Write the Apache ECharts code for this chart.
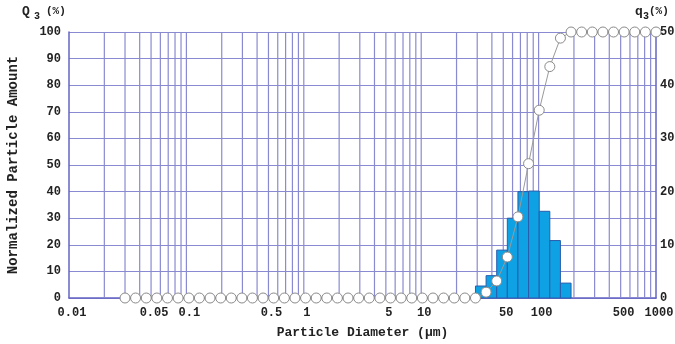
<!DOCTYPE html>
<html>
<head>
<meta charset="utf-8">
<script src="https://cdn.jsdelivr.net/npm/echarts@6/dist/echarts.min.js"></script>
<style>
html,body{margin:0;padding:0;background:#fff;}
#chart{width:675px;height:344px;}
</style>
</head>
<body>
<div id="chart"></div>
<script>
// Particle diameters (µm) of the measurement channels
const diameters = [0.0300, 0.0369, 0.0455, 0.0560, 0.0690, 0.0850, 0.105, 0.129, 0.159, 0.196,
  0.241, 0.297, 0.365, 0.450, 0.554, 0.683, 0.841, 1.035, 1.275, 1.570,
  1.933, 2.381, 2.932, 3.611, 4.447, 5.477, 6.745, 8.307, 10.23, 12.60,
  15.52, 19.11, 23.54, 28.99, 35.70, 43.97, 54.15, 66.69, 82.13, 101.2,
  124.6, 153.4, 189.0, 232.7, 286.6, 353.0, 434.7, 535.4, 659.4, 812.1, 1000];
// Cumulative Q3 (%) at each diameter (left axis)
const cumulativeQ3 = [0, 0, 0, 0, 0, 0, 0, 0, 0, 0,
  0, 0, 0, 0, 0, 0, 0, 0, 0, 0,
  0, 0, 0, 0, 0, 0, 0, 0, 0, 0,
  0, 0, 0, 0, 2.2, 6.4, 15.4, 30.5, 50.5, 70.6,
  87.0, 97.7, 100, 100, 100, 100, 100, 100, 100, 100, 100];
// Frequency q3 (%) of each bin between consecutive diameters (right axis)
const frequencyQ3 = [0, 0, 0, 0, 0, 0, 0, 0, 0, 0,
  0, 0, 0, 0, 0, 0, 0, 0, 0, 0,
  0, 0, 0, 0, 0, 0, 0, 0, 0, 0,
  0, 0, 0, 2.25, 4.2, 9.0, 15.0, 20.0, 20.1, 16.3,
  10.8, 2.8, 0, 0, 0, 0, 0, 0, 0, 0];
// X axis tick labels
const xTickValues = [0.01, 0.05, 0.1, 0.5, 1, 5, 10, 50, 100, 500, 1000];
// Vertical grid positions
const gridDecades = [0.01, 0.1, 1, 10, 100];
const gridMultipliers = [1, 2, 3, 4, 5, 6, 7, 8, 9];
const yLeftMax = 100, yRightMax = 50;

const gridValues = [];
gridDecades.forEach(d => gridMultipliers.forEach(m => {
  const v = +(d * m).toPrecision(3);
  if (v > 0.01) gridValues.push(v);
}));

const lineData = diameters.map((d, i) => [d, cumulativeQ3[i]]);
const barData = [];
frequencyQ3.forEach((v, i) => { if (v > 0) barData.push([diameters[i], diameters[i + 1], v]); });

const FONT = '"Liberation Mono", "DejaVu Sans Mono", monospace';
const GRIDC = '#8a8ad2';
const AXISC = '#6464c4';
const TXT = '#222222';

const chart = echarts.init(document.getElementById('chart'), null, {renderer: 'canvas'});
chart.setOption({
  animation: false,
  backgroundColor: '#fff',
  grid: {left: 69, right: 19, top: 32, bottom: 46, containLabel: false, outerBoundsMode: 'none'},
  xAxis: {
    type: 'log', logBase: 10, min: 0.01, max: 1000,
    name: 'Particle Diameter (μm)', nameLocation: 'middle', nameGap: 28,
    nameTextStyle: {fontFamily: FONT, fontWeight: 'bold', fontSize: 13, color: TXT},
    axisLine: {show: true, lineStyle: {color: AXISC, width: 1.5}},
    axisTick: {show: false},
    splitLine: {show: false},
    axisLabel: {
      customValues: xTickValues,
      fontFamily: FONT, fontWeight: 'bold', fontSize: 12, color: TXT, margin: 9,
      padding: [0, 0, 0, 6],
      formatter: v => String(+(+v).toPrecision(6))
    }
  },
  yAxis: [{
    type: 'value', min: 0, max: yLeftMax, interval: 10,
    name: 'Normalized Particle Amount', nameLocation: 'middle', nameGap: 49,
    nameTextStyle: {fontFamily: FONT, fontWeight: 'bold', fontSize: 14, color: TXT},
    axisLine: {show: true, lineStyle: {color: AXISC, width: 1.5}},
    axisTick: {show: false},
    splitLine: {show: true, lineStyle: {color: GRIDC, width: 1.2}},
    axisLabel: {fontFamily: FONT, fontWeight: 'bold', fontSize: 12, color: TXT, margin: 8}
  }, {
    type: 'value', min: 0, max: yRightMax, interval: 10, position: 'right',
    axisLine: {show: true, lineStyle: {color: AXISC, width: 1.5}},
    axisTick: {show: false},
    splitLine: {show: false},
    axisLabel: {fontFamily: FONT, fontWeight: 'bold', fontSize: 12, color: TXT, margin: 4}
  }],
  graphic: [
    {type: 'text', left: 22, top: 5, style: {text: 'Q', font: 'bold 13px ' + FONT, fill: TXT}},
    {type: 'text', left: 34, top: 11, style: {text: '3', font: 'bold 10px ' + FONT, fill: TXT}},
    {type: 'text', left: 46, top: 6, style: {text: '(%)', font: 'bold 11px ' + FONT, fill: TXT}},
    {type: 'text', left: 635, top: 5, style: {text: 'q', font: 'bold 13px ' + FONT, fill: TXT}},
    {type: 'text', left: 643, top: 11, style: {text: '3', font: 'bold 10px ' + FONT, fill: TXT}},
    {type: 'text', left: 649, top: 6, style: {text: '(%)', font: 'bold 11px ' + FONT, fill: TXT}}
  ],
  series: [{
    type: 'custom', name: 'grid', z: 1, silent: true,
    xAxisIndex: 0, yAxisIndex: 0,
    data: gridValues.map(v => [v]),
    encode: {x: 0},
    renderItem: (params, api) => {
      const v = api.value(0);
      const p0 = api.coord([v, 0]);
      const p1 = api.coord([v, yLeftMax]);
      return {type: 'line', shape: {x1: p0[0], y1: p0[1], x2: p1[0], y2: p1[1]},
        style: {stroke: GRIDC, lineWidth: 1.2}};
    }
  }, {
    type: 'custom', name: 'q3', z: 3,
    xAxisIndex: 0, yAxisIndex: 1,
    data: barData,
    encode: {x: [0, 1], y: 2},
    renderItem: (params, api) => {
      const p0 = api.coord([api.value(0), api.value(2)]);
      const p1 = api.coord([api.value(1), 0]);
      return {type: 'rect', shape: {x: p0[0], y: p0[1], width: p1[0] - p0[0], height: p1[1] - p0[1]},
        style: {fill: '#0ea2e4', stroke: '#2a5cab', lineWidth: 1}};
    }
  }, {
    type: 'line', name: 'Q3', z: 5, clip: false,
    xAxisIndex: 0, yAxisIndex: 0,
    data: lineData,
    symbol: 'circle', symbolSize: 10,
    lineStyle: {color: '#9a9a9a', width: 1},
    itemStyle: {color: '#ffffff', borderColor: '#8a8a8a', borderWidth: 1}
  }]
});
</script>
</body>
</html>
